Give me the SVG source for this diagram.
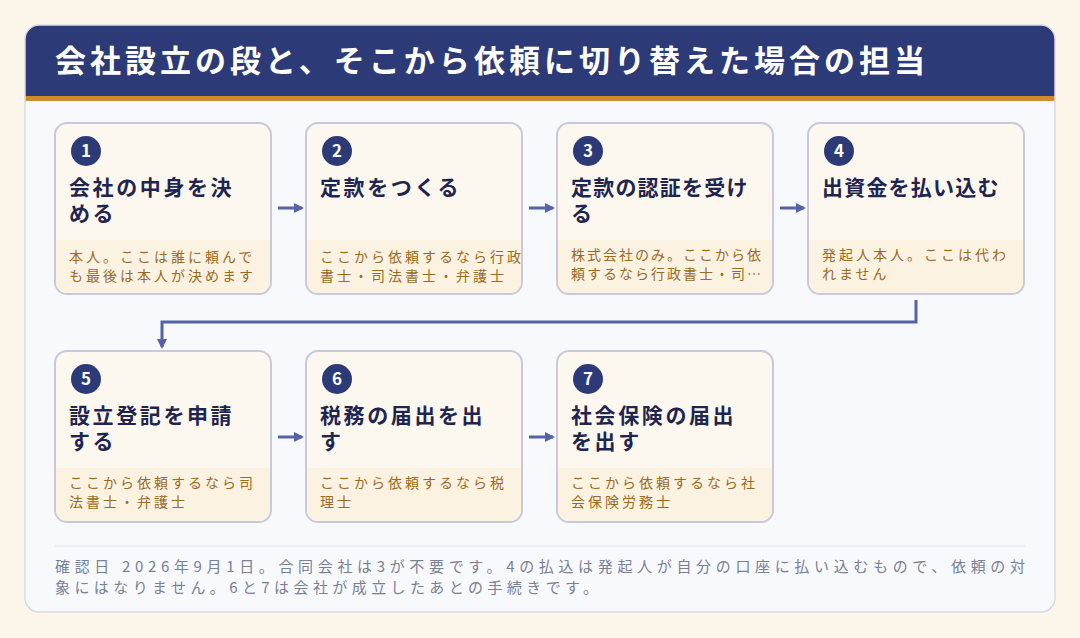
<svg xmlns="http://www.w3.org/2000/svg" width="1080" height="638" viewBox="0 0 1080 638">
<defs>
<style>
.card{fill:#fdf8ef;stroke:#c8c9da;stroke-width:2}
.low{fill:#fcf2e2}
.num{fill:#2c3a78}
.nt{font:bold 17px "Noto Sans CJK JP","Noto Sans",sans-serif;fill:#fff;text-anchor:middle}
.tt{font:bold 21px "Noto Sans CJK JP",sans-serif;fill:#1e2550;letter-spacing:2.6px}
.dt{font:14px "Noto Sans CJK JP",sans-serif;fill:#9a6a22;letter-spacing:3px}
.ft{font:15px "Noto Sans CJK JP",sans-serif;fill:#7a7f95}
.ln{stroke:#5562a8;stroke-width:3;fill:none}
</style>
<marker id="ah" markerWidth="10" markerHeight="10" refX="8" refY="5" orient="auto" markerUnits="userSpaceOnUse"><path d="M0,0 L10,5 L0,10 Z" fill="#5562a8"/></marker>
<clipPath id="c"><rect x="25" y="25" width="1030" height="587" rx="14"/></clipPath>
</defs>
<rect width="1080" height="638" fill="#fdf6ea"/>
<g clip-path="url(#c)">
<rect x="25" y="25" width="1030" height="587" fill="#f7f9fc"/>
<rect x="25" y="25" width="1030" height="71" fill="#2c3a78"/>
<rect x="25" y="96" width="1030" height="5" fill="#d08a2a"/>
</g>
<rect x="25" y="25" width="1030" height="587" rx="14" fill="none" stroke="#d8dbe6" stroke-width="1.5"/>
<text x="55" y="72" font-family="Noto Sans CJK JP,sans-serif" font-weight="bold" font-size="31" fill="#fff" textLength="870" lengthAdjust="spacing">会社設立の段と、そこから依頼に切り替えた場合の担当</text>

<g id="connectors">
<line class="ln" x1="278" y1="208" x2="302" y2="208" marker-end="url(#ah)"/>
<line class="ln" x1="529" y1="208" x2="553" y2="208" marker-end="url(#ah)"/>
<line class="ln" x1="780" y1="208" x2="804" y2="208" marker-end="url(#ah)"/>
<polyline class="ln" points="916,300 916,322 162,322 162,347" marker-end="url(#ah)"/>
<line class="ln" x1="278" y1="437" x2="302" y2="437" marker-end="url(#ah)"/>
<line class="ln" x1="529" y1="437" x2="553" y2="437" marker-end="url(#ah)"/>
</g>

<g id="n1"><rect class="card" x="55" y="123" width="216" height="171" rx="12"/><path class="low" d="M56,240 H270 V282 a11,11 0 0 1 -11,11 H67 a11,11 0 0 1 -11,-11 Z"/><circle class="num" cx="86" cy="151" r="15"/><text class="nt" x="86" y="157">1</text><text class="tt" x="69" y="195">会社の中身を決</text><text class="tt" x="69" y="221">める</text><text class="dt" x="69" y="262">本人。ここは誰に頼んで</text><text class="dt" x="69" y="281">も最後は本人が決めます</text></g>
<g id="n2"><rect class="card" x="306" y="123" width="216" height="171" rx="12"/><path class="low" d="M307,240 H521 V282 a11,11 0 0 1 -11,11 H318 a11,11 0 0 1 -11,-11 Z"/><circle class="num" cx="337" cy="151" r="15"/><text class="nt" x="337" y="157">2</text><text class="tt" x="320" y="195">定款をつくる</text><text class="dt" x="320" y="262">ここから依頼するなら行政</text><text class="dt" x="320" y="281">書士・司法書士・弁護士</text></g>
<g id="n3"><rect class="card" x="557" y="123" width="216" height="171" rx="12"/><path class="low" d="M558,240 H772 V282 a11,11 0 0 1 -11,11 H569 a11,11 0 0 1 -11,-11 Z"/><circle class="num" cx="588" cy="151" r="15"/><text class="nt" x="588" y="157">3</text><text class="tt" x="571" y="195" style="letter-spacing:1.2px">定款の認証を受け</text><text class="tt" x="571" y="221">る</text><text class="dt" x="571" y="260" style="letter-spacing:2px">株式会社のみ。ここから依</text><text class="dt" x="571" y="279" style="letter-spacing:2px">頼するなら行政書士・司…</text></g>
<g id="n4"><rect class="card" x="808" y="123" width="216" height="171" rx="12"/><path class="low" d="M809,240 H1023 V282 a11,11 0 0 1 -11,11 H820 a11,11 0 0 1 -11,-11 Z"/><circle class="num" cx="839" cy="151" r="15"/><text class="nt" x="839" y="157">4</text><text class="tt" x="822" y="195" style="letter-spacing:1.2px">出資金を払い込む</text><text class="dt" x="822" y="260">発起人本人。ここは代わ</text><text class="dt" x="822" y="279">れません</text></g>
<g id="n5"><rect class="card" x="55" y="351" width="216" height="171" rx="12"/><path class="low" d="M56,468 H270 V510 a11,11 0 0 1 -11,11 H67 a11,11 0 0 1 -11,-11 Z"/><circle class="num" cx="86" cy="379" r="15"/><text class="nt" x="86" y="385">5</text><text class="tt" x="69" y="423">設立登記を申請</text><text class="tt" x="69" y="449">する</text><text class="dt" x="69" y="488">ここから依頼するなら司</text><text class="dt" x="69" y="507">法書士・弁護士</text></g>
<g id="n6"><rect class="card" x="306" y="351" width="216" height="171" rx="12"/><path class="low" d="M307,468 H521 V510 a11,11 0 0 1 -11,11 H318 a11,11 0 0 1 -11,-11 Z"/><circle class="num" cx="337" cy="379" r="15"/><text class="nt" x="337" y="385">6</text><text class="tt" x="320" y="423">税務の届出を出</text><text class="tt" x="320" y="449">す</text><text class="dt" x="320" y="488">ここから依頼するなら税</text><text class="dt" x="320" y="507">理士</text></g>
<g id="n7"><rect class="card" x="557" y="351" width="216" height="171" rx="12"/><path class="low" d="M558,468 H772 V510 a11,11 0 0 1 -11,11 H569 a11,11 0 0 1 -11,-11 Z"/><circle class="num" cx="588" cy="379" r="15"/><text class="nt" x="588" y="385">7</text><text class="tt" x="571" y="423">社会保険の届出</text><text class="tt" x="571" y="449">を出す</text><text class="dt" x="571" y="488">ここから依頼するなら社</text><text class="dt" x="571" y="507">会保険労務士</text></g>

<line x1="55" y1="546" x2="1025" y2="546" stroke="#dfe2ea" stroke-width="1"/>
<text class="ft" x="55" y="572" textLength="970" lengthAdjust="spacing">確認日 2026年9月1日。合同会社は3が不要です。4の払込は発起人が自分の口座に払い込むもので、依頼の対</text>
<text class="ft" x="55" y="593" textLength="543" lengthAdjust="spacing">象にはなりません。6と7は会社が成立したあとの手続きです。</text>
</svg>
